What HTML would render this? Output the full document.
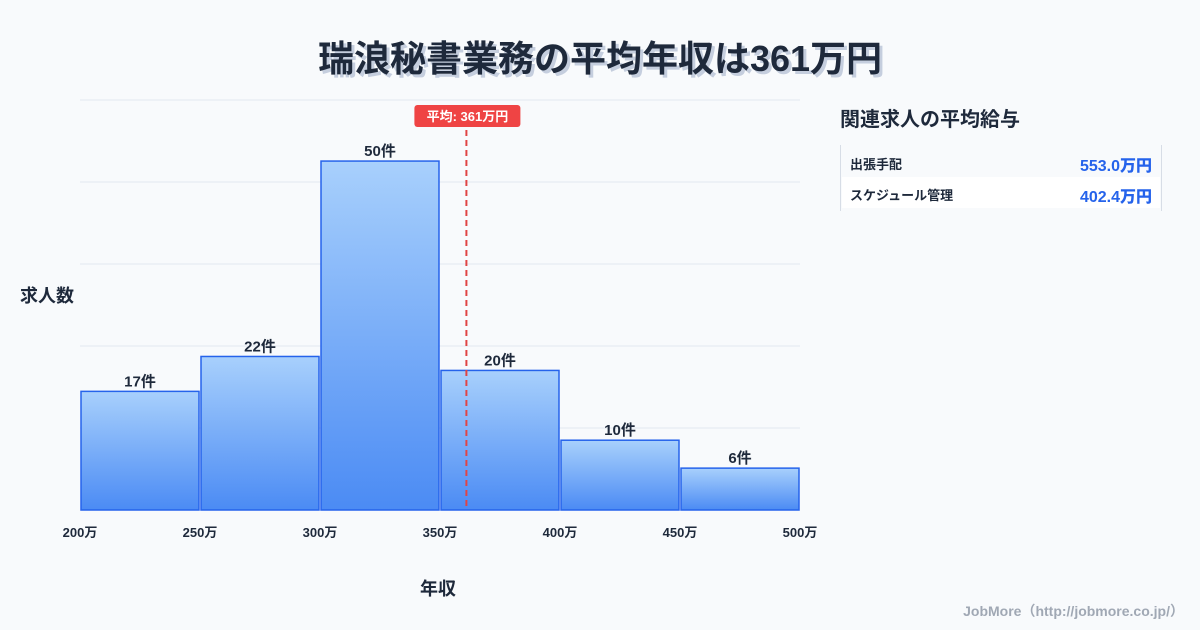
<!DOCTYPE html>
<html><head><meta charset="utf-8">
<style>
body{margin:0;background:#f8fafc;font-family:"Liberation Sans","Noto Sans CJK JP",sans-serif;}
#wrap{position:relative;width:1200px;height:630px;overflow:hidden;background:#f8fafc;}
#title{position:absolute;left:0;width:1200px;top:30px;text-align:center;font-size:36px;font-weight:bold;color:#1e293b;text-shadow:3px 3px 0 #c5cede;}
.t{position:absolute;font-weight:bold;color:#1e293b;}
#panel{position:absolute;left:840px;top:145px;width:320px;height:66px;border-left:1px solid #d7dde6;border-right:1px solid #d7dde6;}
.row{position:absolute;left:1px;width:318px;height:31px;font-size:13px;font-weight:bold;color:#1e293b;}
.row span{position:absolute;left:8px;top:8px;}
.row b{position:absolute;right:8px;top:6px;font-size:16px;color:#2563eb;}
</style></head><body>
<div id="wrap">
<div id="title">瑞浪秘書業務の平均年収は361万円</div>
<svg id="chart" width="1200" height="630" style="position:absolute;left:0;top:0">
<defs><linearGradient id="g" x1="0" y1="0" x2="0" y2="1"><stop offset="0" stop-color="#a8d0fc"/><stop offset="1" stop-color="#4b8bf4"/></linearGradient></defs>
</svg>
<div class="t" style="left:20px;top:282px;font-size:18px">求人数</div>
<div class="t" style="left:420px;top:575px;font-size:18px">年収</div>
<div class="t" style="left:840px;top:103px;font-size:20px">関連求人の平均給与</div>
<div id="panel">
<div class="row" style="top:1px"><span>出張手配</span><b>553.0万円</b></div>
<div class="row" style="top:32px;background:#fff"><span>スケジュール管理</span><b>402.4万円</b></div>
</div>
<div style="position:absolute;right:16px;top:601px;font-size:14px;font-weight:bold;color:#a0a8b4">JobMore（http://jobmore.co.jp/）</div>
</div>
<script>
const binStarts=[200,250,300,350,400,450];
const counts=[17,22,50,20,10,6];
const xTicks=[200,250,300,350,400,450,500];
const meanValue=361;
const yMax=58.75;
const ns="http://www.w3.org/2000/svg";
const svg=document.getElementById('chart');
const x=v=>80+(v-200)*720/300;
const y=v=>510-v*410/yMax;
function mk(t,a){const e=document.createElementNS(ns,t);for(const k in a)e.setAttribute(k,a[k]);svg.appendChild(e);return e;}
for(let i=0;i<=5;i++){const g=mk('line',{x1:80,x2:800,y1:y(yMax*i/5),y2:y(yMax*i/5),stroke:'#e2e8f0','stroke-width':1});

}
counts.forEach((c,i)=>{const x0=x(binStarts[i]),x1=x(binStarts[i]+50);
const r=mk('rect',{x:x0+1,y:y(c),width:x1-x0-2,height:510-y(c),fill:'url(#g)',stroke:'#2563eb','stroke-width':1.5});


const t=mk('text',{x:(x0+x1)/2,y:y(c)-5,'text-anchor':'middle','font-size':15,'font-weight':'bold',fill:'#1e293b'});
t.textContent=c+'件';

});
xTicks.forEach(v=>{const t=mk('text',{x:x(v),y:537,'text-anchor':'middle','font-size':13,'font-weight':'bold',fill:'#1e293b'});
t.textContent=v+'万';

});
const mx=x(meanValue);
const ml=mk('line',{x1:mx,x2:mx,y1:130,y2:510,stroke:'#e04444','stroke-width':2,'stroke-dasharray':'6,4'});


const mb=mk('rect',{x:mx-52,y:105,width:106,height:22,rx:3,fill:'#ef4444'});


const mt=mk('text',{x:mx+1,y:121,'text-anchor':'middle','font-size':13,'font-weight':'bold',fill:'#fff'});
mt.textContent='平均: '+meanValue+'万円';


</script>
</body></html>
